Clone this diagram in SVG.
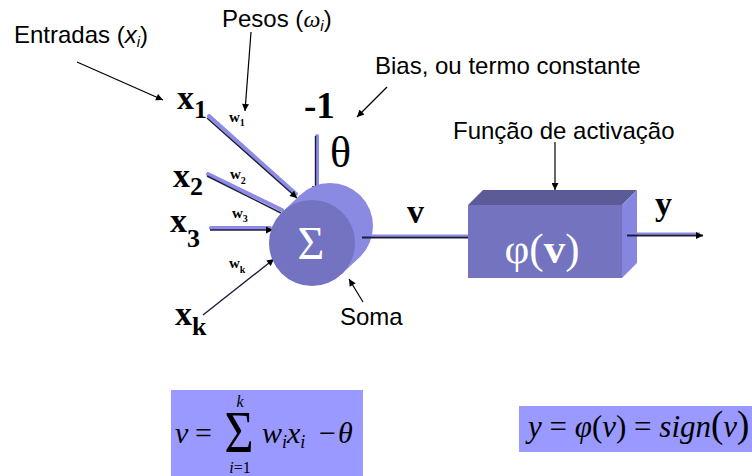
<svg xmlns="http://www.w3.org/2000/svg" width="752" height="476" viewBox="0 0 752 476">
<style>
.lbl{font-family:"Liberation Sans",Arial,sans-serif;font-size:24px;fill:#000}
.sym{font-family:"Liberation Serif","Times New Roman",serif;font-weight:bold;fill:#000}
.xl{font-size:34px}
.wl{font-size:15px}
.ser{font-family:"Liberation Serif","Times New Roman",serif;fill:#000}
.it{font-style:italic}
.thin{stroke:#000;stroke-width:1.2;fill:none}
.lav{stroke:#8c8ce8;stroke-width:4;fill:none;stroke-linecap:round}
.dark{stroke:#1c1c3c;stroke-width:1.4;fill:none}
</style>
<defs>
<marker id="ah" viewBox="0 0 10 10" refX="10" refY="5" markerWidth="8" markerHeight="7" markerUnits="userSpaceOnUse" orient="auto">
<path d="M0,0 L10,5 L0,10 z" fill="#000"/>
</marker>
</defs>
<rect width="752" height="476" fill="#fff"/>

<g id="labels">
<text class="lbl" x="14" y="43">Entradas (<tspan class="it">x</tspan><tspan class="it" font-size="15" dy="4">i</tspan><tspan dy="-4">)</tspan></text>
<text class="lbl" x="222" y="27">Pesos (<tspan font-family="Liberation Serif,serif" class="it">ω</tspan><tspan class="it" font-size="15" dy="4">i</tspan><tspan dy="-4">)</tspan></text>
<text class="lbl" x="375" y="74">Bias, ou termo constante</text>
<text class="lbl" x="453" y="139">Função de activação</text>
<text class="lbl" x="340" y="325">Soma</text>
</g>

<g id="inputs">
<text class="sym xl" x="177" y="109">x<tspan font-size="26" dy="9">1</tspan></text>
<text class="sym xl" x="173" y="187">x<tspan font-size="26" dy="8">2</tspan></text>
<text class="sym xl" x="170" y="232">x<tspan font-size="26" dy="15">3</tspan></text>
<text class="sym xl" x="175" y="325">x<tspan font-size="26" dy="10">k</tspan></text>
<text class="sym wl" x="229" y="122">w<tspan font-size="10" dy="4">1</tspan></text>
<text class="sym wl" x="230" y="179">w<tspan font-size="10" dy="5">2</tspan></text>
<text class="sym wl" x="232" y="218">w<tspan font-size="10" dy="4">3</tspan></text>
<text class="sym wl" x="229" y="268">w<tspan font-size="10" dy="5">k</tspan></text>
<text class="sym" x="304" y="118" font-size="37">-1</text>
<text class="ser" x="330" y="167" font-size="44">θ</text>
<text class="sym" x="407" y="223" font-size="34">v</text>
<text class="sym" x="655" y="215" font-size="34">y</text>
</g>

<g id="connectors">
<line class="thin" x1="77" y1="62" x2="163" y2="100" marker-end="url(#ah)"/>
<line class="thin" x1="251" y1="32" x2="245" y2="111" marker-end="url(#ah)"/>
<line class="thin" x1="387" y1="87" x2="357" y2="117" marker-end="url(#ah)"/>
<line class="thin" x1="555" y1="142" x2="555" y2="190" marker-end="url(#ah)"/>
<line class="thin" x1="363" y1="302" x2="349" y2="279" marker-end="url(#ah)"/>
<line class="lav" x1="209" y1="116" x2="296" y2="194"/>
<line class="dark" x1="207" y1="118" x2="297" y2="198" marker-end="url(#ah)"/>
<line class="lav" x1="208" y1="174" x2="282" y2="210"/>
<line class="dark" x1="207" y1="176" x2="281" y2="213"/>
<line class="lav" x1="211" y1="228" x2="270" y2="228"/>
<line class="dark" x1="210" y1="230" x2="273" y2="230" marker-end="url(#ah)"/>
<line class="dark" x1="203" y1="315" x2="274" y2="259" marker-end="url(#ah)"/>
<line class="lav" x1="317" y1="136" x2="317" y2="188"/>
<line class="dark" x1="315.5" y1="136" x2="315.5" y2="193" marker-end="url(#ah)"/>
</g>

<g id="soma">
<polygon points="341.5,274.3 359.5,257.3 300.5,194.7 282.5,211.7" fill="#8a8ae2"/>
<circle cx="330" cy="226" r="43" fill="#8a8ae2"/>
<circle cx="312" cy="243" r="43" fill="#7373c2"/>
<text x="311" y="259" text-anchor="middle" font-family="Liberation Serif,serif" font-size="46" fill="#fff">Σ</text>
</g>

<g id="v-link">
<line x1="362" y1="235.5" x2="468" y2="235.5" stroke="#8c8ce8" stroke-width="2"/>
<line x1="362" y1="237.5" x2="468" y2="237.5" stroke="#1c1c3c" stroke-width="2.2"/>
</g>

<g id="activacao">
<polygon points="468,205 483,190 637,190 622,205" fill="#5b5b98"/>
<polygon points="622,205 637,190 637,263 622,278" fill="#8686e0"/>
<rect x="468" y="205" width="154" height="73" fill="#7373c0"/>
<text x="542" y="263" text-anchor="middle" font-family="Liberation Serif,serif" font-size="43" fill="#fff">φ(<tspan font-weight="bold">v</tspan>)</text>
</g>

<g id="output">
<line x1="627" y1="233.5" x2="700" y2="233.5" stroke="#8c8ce8" stroke-width="2"/>
<line x1="627" y1="235.5" x2="703" y2="235.5" stroke="#1c1c3c" stroke-width="1.8" marker-end="url(#ah)"/>
</g>

<g id="formula-v">
<rect x="171" y="390" width="192" height="86" fill="#9999ff"/>
<text class="ser it" x="175" y="443" font-size="30">v</text>
<text class="ser" x="195" y="443" font-size="30">=</text>
<text class="ser" transform="translate(239,452) scale(1,1.2)" x="0" y="0" font-size="50" text-anchor="middle">Σ</text>
<text class="ser it" x="240" y="407" font-size="16" text-anchor="middle">k</text>
<text class="ser" x="240" y="473" font-size="16" text-anchor="middle"><tspan class="it">i</tspan>=1</text>
<text class="ser it" x="262" y="443" font-size="30">w<tspan font-size="18" dy="5">i</tspan><tspan dy="-5">x</tspan><tspan font-size="18" dy="5">i</tspan></text>
<text class="ser" x="319" y="443" font-size="30">−</text>
<text class="ser it" x="338" y="443" font-size="30">θ</text>
</g>

<g id="formula-y">
<rect x="519" y="406" width="233" height="46" fill="#9999ff"/>
<text class="ser it" x="528" y="437" font-size="31">y<tspan font-style="normal"> = </tspan>φ<tspan font-style="normal">(</tspan>v<tspan font-style="normal">) = </tspan>sign<tspan font-style="normal" font-size="37">(</tspan>v<tspan font-style="normal" font-size="37">)</tspan></text>
</g>
</svg>
